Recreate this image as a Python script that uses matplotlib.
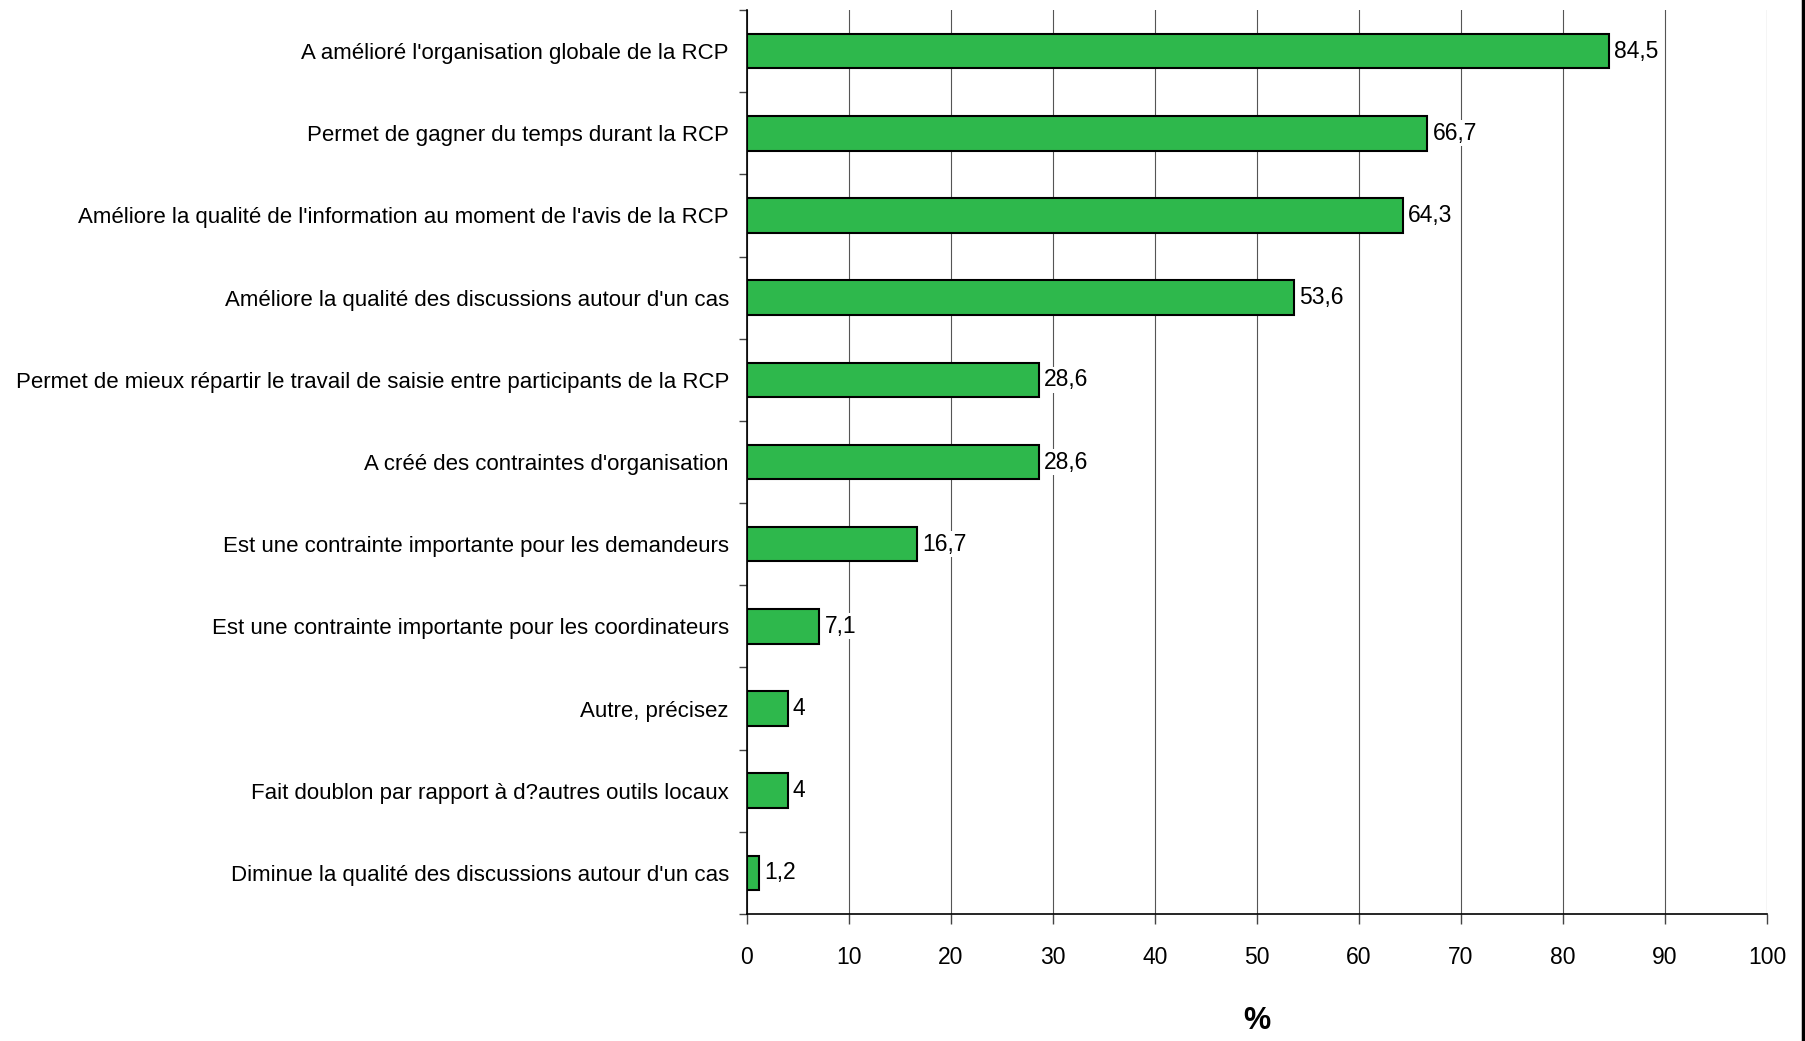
import matplotlib
matplotlib.use("Agg")
import matplotlib.pyplot as plt
from matplotlib.lines import Line2D
from matplotlib import font_manager

categories = [
    "A amélioré l'organisation globale de la RCP",
    "Permet de gagner du temps durant la RCP",
    "Améliore la qualité de l'information au moment de l'avis de la RCP",
    "Améliore la qualité des discussions autour d'un cas",
    "Permet de mieux répartir le travail de saisie entre participants de la RCP",
    "A créé des contraintes d'organisation",
    "Est une contrainte importante pour les demandeurs",
    "Est une contrainte importante pour les coordinateurs",
    "Autre, précisez",
    "Fait doublon par rapport à d?autres outils locaux",
    "Diminue la qualité des discussions autour d'un cas",
]
values = [84.5, 66.7, 64.3, 53.6, 28.6, 28.6, 16.7, 7.1, 4, 4, 1.2]
xticks = [0, 10, 20, 30, 40, 50, 60, 70, 80, 90, 100]
xlabel = "%"

names = {f.name for f in font_manager.fontManager.ttflist}
narrow = [f for f in ["Liberation Sans Narrow", "Arial Narrow"] if f in names]
if narrow:
    plt.rcParams["font.family"] = [narrow[0], "DejaVu Sans"]
    FS = 20
else:
    plt.rcParams["font.family"] = ["Liberation Sans", "DejaVu Sans"]
    FS = 16

fig = plt.figure(figsize=(18.06, 10.41), dpi=100)
ax = fig.add_axes([747 / 1806, 1 - 914 / 1041, 1020 / 1806, 904 / 1041])

ypos = list(range(len(categories)))
ax.barh(ypos, values, height=0.42, color="#2EB84C", edgecolor="black",
        linewidth=1.5, zorder=3)

for y, v in zip(ypos, values):
    s = ("%.1f" % v).replace(".", ",")
    if s.endswith(",0"):
        s = s[:-2]
    ax.text(v + 0.5, y, s, va="center", ha="left", fontsize=FS + 0.5, zorder=4,
            bbox=dict(facecolor="white", edgecolor="none", pad=1))

ax.set_xlim(0, 100)
ax.set_ylim(len(categories) - 0.5, -0.5)
ax.set_xticks(xticks)
ax.set_xticklabels([str(t) for t in xticks], fontsize=FS + 0.5)
ax.set_yticks(ypos)
ax.set_yticklabels(categories, fontsize=FS)
ax.set_yticks([i - 0.5 for i in range(len(categories) + 1)], minor=True)
ax.tick_params(axis="y", which="major", length=0, pad=13)
ax.tick_params(axis="y", which="minor", length=6, width=1, color="#444444")
ax.tick_params(axis="x", which="major", length=7, width=1, pad=16, color="#444444")

ax.grid(axis="x", color="#555555", linewidth=0.8, zorder=0)
ax.set_axisbelow(True)
for sp in ["top", "right"]:
    ax.spines[sp].set_visible(False)
ax.spines["left"].set_linewidth(1.2)
ax.spines["bottom"].set_linewidth(1.2)

ax.set_xlabel(xlabel, fontsize=FS + 6, fontweight="bold", labelpad=27)

fig.add_artist(Line2D([0.9985, 0.9985], [0, 1], transform=fig.transFigure,
                      color="black", linewidth=2.5))

fig.savefig("out.png", dpi=100)
